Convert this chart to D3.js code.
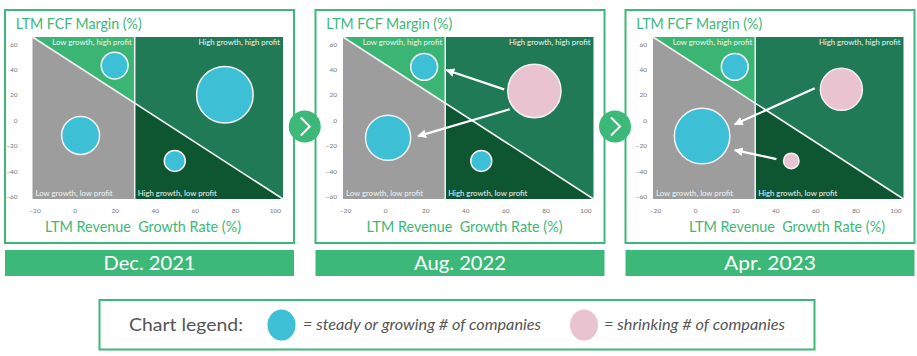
<!DOCTYPE html>
<html><head><meta charset="utf-8">
<script src="https://cdn.jsdelivr.net/npm/d3@7"></script>
<style>body{margin:0;background:#fff}svg{display:block}</style>
</head><body>
<svg id="c" width="917" height="356"></svg>
<script>
// ---------- DATA ----------
const periods = ["Dec. 2021", "Aug. 2022", "Apr. 2023"];
const quadrantNames = ["Low growth, high profit", "High growth, high profit", "Low growth, low profit", "High growth, low profit"];
const xTicks = [-20, 0, 20, 40, 60, 80, 100];
const yTicks = [-60, -40, -20, 0, 20, 40, 60];
const growthSplit = 30;

// bubble order: LG/HP, HG/HP, LG/LP, HG/LP
const growthDec21 = [20, 75, 3, 50];
const marginDec21 = [43, 20, -12, -32];
const sizeDec21   = [18, 80, 36, 11];
const trendDec21  = ["steady", "steady", "steady", "steady"];

const growthAug22 = [19.5, 74.5, 1.5, 48];
const marginAug22 = [42, 23, -13.8, -32];
const sizeAug22   = [18, 71, 51, 11];
const trendAug22  = ["steady", "shrinking", "steady", "steady"];

const growthApr23 = [19.8, 73, 3.5, 48];
const marginApr23 = [42, 24.3, -12.5, -32];
const sizeApr23   = [18, 44, 77, 6];
const trendApr23  = ["steady", "shrinking", "steady", "shrinking"];

// arrows [fromGrowth, fromMargin, toGrowth, toMargin]
const arrowsDec21 = [];
const arrowsAug22 = [[59.4, 24.3, 30.6, 39.5], [62.2, 8.6, 16.5, -12.5]];
const arrowsApr23 = [[59.7, 25.1, 19.8, -3.2], [40.6, -30.6, 19.8, -23.5]];

const legendTitle = "Chart legend:";
const legendLabels = ["= steady or growing # of companies", "= shrinking # of companies"];
const yTitle = "LTM FCF Margin (%)";
const xTitle = "LTM Revenue  Growth Rate (%)";

// ---------- LAYOUT / STYLE ----------
const GREEN = "#3cb878";
const colors = {lghp: "#3bb574", hghp: "#1f7a55", lglp: "#9d9d9d", hglp: "#0e5532"};
const bubbleColor = {steady: "#3dbfd6", shrinking: "#e9c4d0"};
const panelLeft = [5, 315.5, 625.5];
const panelW = 289, panelTop = 10, panelH = 233;
const plotOffX = 27.5, plotW = 250.5, plotTop = 37, plotBottom = 199;
const yTickGap = [15, 6, 6];
const xTitleStart = [40, 51, 63.5];

const panels = [
  {growth: growthDec21, margin: marginDec21, size: sizeDec21, trend: trendDec21, arrows: arrowsDec21},
  {growth: growthAug22, margin: marginAug22, size: sizeAug22, trend: trendAug22, arrows: arrowsAug22},
  {growth: growthApr23, margin: marginApr23, size: sizeApr23, trend: trendApr23, arrows: arrowsApr23}
];

const svg = d3.select("#c");
const FONT = "Lato, 'Open Sans', sans-serif";

svg.append("defs").append("marker")
  .attr("id", "ah").attr("viewBox", "0 0 10 10").attr("refX", 9).attr("refY", 5)
  .attr("markerWidth", 4).attr("markerHeight", 4).attr("markerUnits", "strokeWidth")
  .attr("orient", "auto")
  .append("path").attr("d", "M0,0L10,5L0,10Z").attr("fill", "#fff");

const rScale = d3.scaleSqrt().domain([0, 80]).range([0, 28.3]);

panels.forEach((p, i) => {
  const L = panelLeft[i];
  const g = svg.append("g");
  g.append("rect").attr("x", L).attr("y", panelTop).attr("width", panelW).attr("height", panelH)
    .attr("fill", "#fff").attr("stroke", GREEN).attr("stroke-width", 2);

  const x = d3.scaleLinear().domain([-21, 104]).range([L + plotOffX, L + plotOffX + plotW]);
  const y = d3.scaleLinear().domain([-62, 65.5]).range([plotBottom, plotTop]);
  const x0 = x.range()[0], x1 = x.range()[1], y0 = y.range()[1], y1 = y.range()[0];
  const xs = x(growthSplit);
  const yd = y0 + (xs - x0) / (x1 - x0) * (y1 - y0);

  const poly = (pts, c) => g.append("polygon").attr("points", pts.map(d => d.join(",")).join(" ")).attr("fill", c);
  poly([[x0, y0], [xs, y0], [xs, yd]], colors.lghp);
  poly([[x0, y0], [xs, yd], [xs, y1], [x0, y1]], colors.lglp);
  poly([[xs, y0], [x1, y0], [x1, y1], [xs, yd]], colors.hghp);
  poly([[xs, yd], [x1, y1], [xs, y1]], colors.hglp);
  g.append("line").attr("x1", x0).attr("y1", y0).attr("x2", x1).attr("y2", y1)
    .attr("stroke", "#f4f4f4").attr("stroke-width", 1.5);
  g.append("line").attr("x1", xs).attr("y1", y0).attr("x2", xs).attr("y2", y1)
    .attr("stroke", "#f4f4f4").attr("stroke-width", 1.5);

  const ql = g.append("g").attr("font-family", FONT).attr("font-size", 7.8).attr("fill", "#f2f2f2");
  ql.append("text").attr("x", xs - 3).attr("y", y0 + 7.5).attr("text-anchor", "end").text(quadrantNames[0]);
  ql.append("text").attr("x", x1 - 3).attr("y", y0 + 7.5).attr("text-anchor", "end").text(quadrantNames[1]);
  ql.append("text").attr("x", x0 + 3).attr("y", y1 - 3).attr("text-anchor", "start").text(quadrantNames[2]);
  ql.append("text").attr("x", xs + 3).attr("y", y1 - 3).attr("text-anchor", "start").text(quadrantNames[3]);

  // axes
  const xa = g.append("g").attr("transform", `translate(0,${plotBottom + 9})`)
    .call(d3.axisBottom(x).tickValues(xTicks).tickSize(0).tickPadding(0));
  xa.select(".domain").remove();
  xa.selectAll("text").attr("font-family", FONT).attr("font-size", 6.5).attr("fill", "#777");
  const ya = g.append("g").attr("transform", `translate(${x0 - yTickGap[i]},0)`)
    .call(d3.axisLeft(y).tickValues(yTicks).tickSize(0).tickPadding(0));
  ya.select(".domain").remove();
  ya.selectAll("text").attr("font-family", FONT).attr("font-size", 6.5).attr("fill", "#777");

  // titles
  g.append("text").attr("x", L + 10.7).attr("y", 28.5).attr("font-family", FONT).attr("font-size", 15)
    .attr("fill", GREEN).attr("textLength", 126).attr("lengthAdjust", "spacingAndGlyphs").text(yTitle);
  g.append("text").attr("x", L + xTitleStart[i]).attr("y", 232)
    .attr("font-family", FONT).attr("font-size", 16).attr("fill", GREEN)
    .attr("textLength", 196).attr("lengthAdjust", "spacingAndGlyphs")
    .style("white-space", "pre").text(xTitle);

  // bubbles
  const idx = d3.range(p.growth.length);
  g.selectAll("circle.b").data(idx).join("circle").attr("class", "b")
    .attr("cx", j => x(p.growth[j])).attr("cy", j => y(p.margin[j])).attr("r", j => rScale(p.size[j]))
    .attr("fill", j => bubbleColor[p.trend[j]]).attr("stroke", "#f2f2f2").attr("stroke-width", 1.5);

  // arrows
  g.selectAll("line.a").data(p.arrows).join("line").attr("class", "a")
    .attr("x1", a => x(a[0])).attr("y1", a => y(a[1])).attr("x2", a => x(a[2])).attr("y2", a => y(a[3]))
    .attr("stroke", "#fff").attr("stroke-width", 2.2).attr("marker-end", "url(#ah)");

  // period bar
  g.append("rect").attr("x", L).attr("y", 250).attr("width", panelW).attr("height", 26).attr("fill", GREEN);
  g.append("text").attr("x", L + panelW / 2 - 46).attr("y", 263).attr("dy", "0.36em")
    .attr("font-family", FONT).attr("font-size", 19).attr("fill", "#fff")
    .attr("textLength", 92).attr("lengthAdjust", "spacingAndGlyphs").text(periods[i]);
});

// chevrons between panels
[0, 1].forEach(k => {
  const cx = (panelLeft[k] + panelW + panelLeft[k + 1]) / 2, cy = 126.5;
  svg.append("circle").attr("cx", cx).attr("cy", cy).attr("r", 16).attr("fill", GREEN);
  svg.append("path").attr("d", `M${cx - 4},${cy - 9}L${cx + 5},${cy}L${cx - 4},${cy + 9}`)
    .attr("fill", "none").attr("stroke", "#fff").attr("stroke-width", 2);
});

// legend
const lg = svg.append("g");
lg.append("rect").attr("x", 99.5).attr("y", 300).attr("width", 715).attr("height", 49.5)
  .attr("fill", "#fff").attr("stroke", GREEN).attr("stroke-width", 2);
lg.append("text").attr("x", 129).attr("y", 325).attr("dy", "0.36em").attr("font-family", FONT)
  .attr("font-size", 18).attr("fill", "#555")
  .attr("textLength", 114).attr("lengthAdjust", "spacingAndGlyphs").text(legendTitle);
const legItems = [{cx: 281.5, c: bubbleColor.steady, tx: 303, w: 238}, {cx: 584, c: bubbleColor.shrinking, tx: 604, w: 181}];
legItems.forEach((it, k) => {
  lg.append("ellipse").attr("cx", it.cx).attr("cy", 325).attr("rx", 14).attr("ry", 15.5).attr("fill", it.c);
  lg.append("text").attr("x", it.tx).attr("y", 325).attr("dy", "0.36em").attr("font-family", FONT)
    .attr("font-style", "italic").attr("font-size", 14.5).attr("fill", "#555")
    .attr("textLength", it.w).attr("lengthAdjust", "spacingAndGlyphs").text(legendLabels[k]);
});
</script>
</body></html>
